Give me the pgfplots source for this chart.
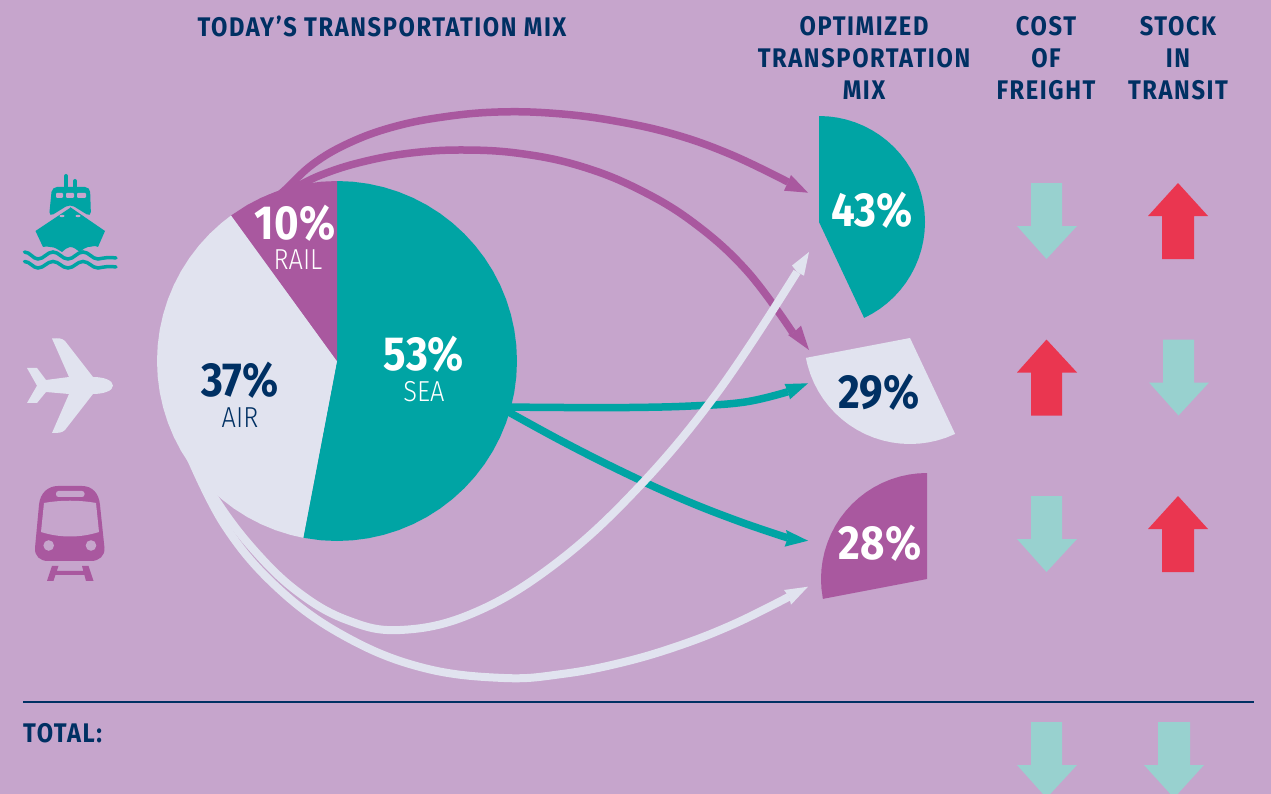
\documentclass[border=0pt]{standalone}
\usepackage{fontspec}
\usepackage{pgfplots}
\pgfplotsset{compat=1.18}
\usepgfplotslibrary{polar}
\setmainfont{Fira Sans}[FakeStretch=0.88]
\newfontfamily\headf{Fira Sans}[FakeStretch=0.88,LetterSpace=6]
\newfontfamily\thinf{Fira Sans Light}[FakeStretch=0.88]
\definecolor{bg}{HTML}{C6A5CC}
\definecolor{tealc}{HTML}{00A4A4}
\definecolor{purp}{HTML}{A9589F}
\definecolor{lite}{HTML}{E1E3EF}
\definecolor{navy}{HTML}{003063}
\definecolor{dnc}{HTML}{98D1CF}
\definecolor{upc}{HTML}{EA3650}
\newcommand\hd[1]{{\fontsize{27}{32}\headf\bfseries #1}}
\newcommand\pc[1]{{\fontsize{48}{50}\selectfont\bfseries #1}}
\newcommand\lb[1]{{\fontsize{29}{30}\thinf #1}}
\begin{document}
\begin{tikzpicture}
\useasboundingbox (0,0) rectangle (1271bp,794bp);
\fill[bg] (0,0) rectangle (1271bp,794bp);
\begin{axis}[at={(0,0)},anchor=south west,width=1271bp,height=794bp,scale only axis,
  xmin=0,xmax=1271,ymin=0,ymax=794,y dir=reverse,hide axis,clip=true,
  wedge/.style={fill=#1,draw=none,forget plot,data cs=polar},
  flow/.style={smooth,tension=0.66,color=#1,no markers,forget plot,line width=7.5bp},
  head/.style={fill=#1,draw=none,forget plot},
  dn/.style={fill=dnc,draw=none,forget plot},
  upa/.style={fill=upc,draw=none,forget plot}]
% today's mix
\addplot[wedge=tealc,shift={(axis direction cs:337,361)}] coordinates {(0,0)(-90,180)(-85,180)(-80,180)(-75,180)(-70,180)(-65,180)(-60,180)(-55,180)(-50,180)(-45,180)(-40,180)(-35,180)(-30,180)(-25,180)(-20,180)(-15,180)(-10,180)(-5,180)(0,180)(5,180)(10,180)(15,180)(20,180)(25,180)(30,180)(35,180)(40,180)(45,180)(50,180)(55,180)(60,180)(65,180)(70,180)(75,180)(80,180)(85,180)(90,180)(95,180)(100.8,180)} -- cycle;
\addplot[wedge=lite,shift={(axis direction cs:337,361)}] coordinates {(0,0)(100.8,180)(105,180)(110,180)(115,180)(120,180)(125,180)(130,180)(135,180)(140,180)(145,180)(150,180)(155,180)(160,180)(165,180)(170,180)(175,180)(180,180)(185,180)(190,180)(195,180)(200,180)(205,180)(210,180)(215,180)(220,180)(225,180)(230,180)(234,180)} -- cycle;
\addplot[wedge=purp,shift={(axis direction cs:337,361)}] coordinates {(0,0)(234,180)(240,180)(245,180)(250,180)(255,180)(260,180)(265,180)(270,180)} -- cycle;
% optimized mix
\addplot[wedge=tealc,shift={(axis direction cs:819,222)}] coordinates {(0,0)(-90,106)(-85,106)(-80,106)(-75,106)(-70,106)(-65,106)(-60,106)(-55,106)(-50,106)(-45,106)(-40,106)(-35,106)(-30,106)(-25,106)(-20,106)(-15,106)(-10,106)(-5,106)(0,106)(5,106)(10,106)(15,106)(20,106)(25,106)(30,106)(35,106)(40,106)(45,106)(50,106)(55,106)(60,106)(64.8,106)} -- cycle;
\addplot[wedge=lite,shift={(axis direction cs:910,338)}] coordinates {(0,0)(64.8,106)(70,106)(75,106)(80,106)(85,106)(90,106)(95,106)(100,106)(105,106)(110,106)(115,106)(120,106)(125,106)(130,106)(135,106)(140,106)(145,106)(150,106)(155,106)(160,106)(165,106)(169.2,106)} -- cycle;
\addplot[wedge=purp,shift={(axis direction cs:927,579)}] coordinates {(0,0)(169.2,106)(175,106)(180,106)(185,106)(190,106)(195,106)(200,106)(205,106)(210,106)(215,106)(220,106)(225,106)(230,106)(235,106)(240,106)(245,106)(250,106)(255,106)(260,106)(265,106)(270,106)} -- cycle;
% flows: rail
\addplot[flow=purp] coordinates {(265,207)(285,190)(313,164)(349,143)(393,127)(443,117)(498,112)(556,113.5)(615,121)(675,134.5)(732,155)(788,182)};
\addplot[head=purp] coordinates {(808,192.7)(791,175)(788,182)(784,190.7)} -- cycle;
\addplot[flow=purp] coordinates {(268,199)(288,191)(321,175)(362,162)(411,153)(464,150)(521,153.6)(580,166)(638,189)(694,223)(747,271)(793,333)};
\addplot[head=purp] coordinates {(809,350)(801,325.7)(793,333)(788,335)} -- cycle;
% flows: sea
\addplot[flow=tealc] coordinates {(505,407)(565,407.5)(629,407.5)(691,406)(745,402)(788,391.7)};
\addplot[head=tealc] coordinates {(808,383.3)(784.5,384)(788,391.7)(790,399.3)} -- cycle;
\addplot[flow=tealc] coordinates {(505,410)(563.5,442)(623,472)(682,499)(738,521)(788,538)};
\addplot[head=tealc] coordinates {(808,540.7)(786,530)(788,538)(784.5,546.7)} -- cycle;
% flows: air
\addplot[flow=lite,line width=8bp] coordinates {(185,445)(216,500)(254,550)(298,592)(347,620)(400,630)(471,614)(551,567)(634,492)(717,393)(797,272)};
\addplot[head=lite] coordinates {(809,252)(792,265.5)(797,272)(804,275.7)} -- cycle;
\addplot[flow=lite,line width=8bp] coordinates {(185,445)(224.5,525)(280,590)(348,638)(424,668)(504,678)(562,674)(620,663)(678,646)(734,624)(789,596.7)};
\addplot[head=lite] coordinates {(808,586.7)(784,590)(789,596.7)(791,604.7)} -- cycle;
% total rule
\addplot[navy,line width=2bp,forget plot] coordinates {(23,702)(1254,702)};
% arrows
\addplot[dn] coordinates {(1031,183)(1062,183)(1062,226)(1077,226)(1046.5,259)(1017,226)(1031,226)} -- cycle;
\addplot[upa] coordinates {(1178,183)(1208,216)(1194,216)(1194,259)(1162,259)(1162,216)(1148,216)} -- cycle;
\addplot[upa] coordinates {(1046.5,339.5)(1077,372.5)(1062,372.5)(1062,415.5)(1031,415.5)(1031,372.5)(1017,372.5)} -- cycle;
\addplot[dn] coordinates {(1163,339.5)(1194,339.5)(1194,382.5)(1209,382.5)(1178.5,415.5)(1149,382.5)(1163,382.5)} -- cycle;
\addplot[dn] coordinates {(1031,496)(1062,496)(1062,539)(1077,539)(1046.5,572)(1017,539)(1031,539)} -- cycle;
\addplot[upa] coordinates {(1178,496)(1208,529)(1194,529)(1194,572)(1162,572)(1162,529)(1148,529)} -- cycle;
\addplot[dn] coordinates {(1031,722)(1062,722)(1062,765)(1077,765)(1046.5,798)(1017,765)(1031,765)} -- cycle;
\addplot[dn] coordinates {(1158,722)(1190,722)(1190,765)(1204,765)(1174,798)(1144,765)(1158,765)} -- cycle;
% texts
\tikzset{every node/.append style={inner sep=0pt}}
\node[text=navy] at (axis cs:382,26) {\hd{TODAY’S TRANSPORTATION MIX}};
\node[text=navy] at (axis cs:864,26) {\hd{OPTIMIZED}};
\node[text=navy] at (axis cs:864,58) {\hd{TRANSPORTATION}};
\node[text=navy] at (axis cs:864,90) {\hd{MIX}};
\node[text=navy] at (axis cs:1046,26) {\hd{COST}};
\node[text=navy] at (axis cs:1046,58) {\hd{OF}};
\node[text=navy] at (axis cs:1046,90) {\hd{FREIGHT}};
\node[text=navy] at (axis cs:1178,26) {\hd{STOCK}};
\node[text=navy] at (axis cs:1178,58) {\hd{IN}};
\node[text=navy] at (axis cs:1178,90) {\hd{TRANSIT}};
\node[text=navy,anchor=west] at (axis cs:23,733) {\hd{TOTAL:}};
\node[text=white] at (axis cs:424,354) {\pc{53\%}};
\node[text=white] at (axis cs:424,392) {\lb{SEA}};
\node[text=navy] at (axis cs:240,380) {\pc{37\%}};
\node[text=navy] at (axis cs:240,418) {\lb{AIR}};
\node[text=white] at (axis cs:295,223) {\pc{10\%}};
\node[text=white] at (axis cs:298,260) {\lb{RAIL}};
\node[text=white] at (axis cs:872,210) {\pc{43\%}};
\node[text=navy] at (axis cs:879,392) {\pc{29\%}};
\node[text=white] at (axis cs:880,543) {\pc{28\%}};
\end{axis}
% icons, in image pixel coordinates
\begin{scope}[shift={(0,794bp)},x=1bp,y=-1bp]
% ship
\draw[tealc,line width=4bp,line cap=round] (66,176)--(66,190) (75,181)--(75,190);
\fill[tealc,rounded corners=5bp] (49,217)--(52,187)--(90,187)--(91,217)--(70,204)--cycle;
\fill[tealc] (35.5,231)--(70,208) to[out=-5,in=150] (70,207) --(105,231)--(98,247)
  to[out=150,in=0] (88,247) to[out=180,in=30] (80,252) to[out=150,in=0] (70,247) to[out=180,in=30] (62,252) to[out=150,in=0] (50,247) to[out=180,in=30] (43,247)--cycle;
\fill[bg,rounded corners=1bp] (56,193) rectangle (63,198) (66,193) rectangle (74,198) (77,193) rectangle (86,198);
\fill[bg] (62,216) ellipse (2.5 and 1.2) (78,216) ellipse (2.5 and 1.2);
\draw[tealc,line width=3.5bp,line cap=round] (24.5,252) .. controls (30,252) and (33,259) .. (38,259) .. controls (44,259) and (47,252) .. (53,252) .. controls (59,252) and (62,259) .. (68,259) .. controls (74,259) and (77,252) .. (83,252) .. controls (89,252) and (92,259) .. (98,259) .. controls (104,258) and (108,257) .. (116,258);
\draw[tealc,line width=3.5bp,line cap=round] (24.5,261.5) .. controls (30,261.5) and (33,268) .. (38,268) .. controls (44,268) and (47,261.5) .. (53,261.5) .. controls (59,261.5) and (62,268) .. (68,268) .. controls (74,268) and (77,261.5) .. (83,261.5) .. controls (89,261.5) and (92,268) .. (98,268) .. controls (104,267) and (108,266) .. (116,267);
% plane
\fill[lite] (113,385.7) .. controls (113,380) and (103,377) .. (93,377) -- (65,341) .. controls (62,338) and (58,338) .. (52,338.5) -- (69,377) -- (46,380) -- (37,368) -- (27,368) -- (37,385.7) -- (27,403) -- (37,403) -- (46,392) -- (69,394) -- (52,433) .. controls (58,433) and (62,433) .. (65,430) -- (93,394) .. controls (103,394) and (113,391) .. (113,385.7) -- cycle;
% train
\fill[purp] (35,548) -- (39,505) .. controls (40,493) and (48,486) .. (58,486) -- (82,486) .. controls (92,486) and (99,493) .. (100,505) -- (104.5,548) .. controls (105,556) and (99,561) .. (91,561) -- (48,561) .. controls (40,561) and (34.5,556) .. (35,548) -- cycle;
\fill[bg] (44,503) .. controls (60,500) and (80,500) .. (96,503) -- (99,532) .. controls (80,538) and (60,538) .. (41,532) -- cycle;
\fill[bg,rounded corners=2.5bp] (56,491) rectangle (84.5,497);
\fill[bg] (48.7,545.5) circle (5.3) (91,545.5) circle (5.3);
\fill[purp] (52,566)--(58.5,566)--(53.5,581)--(47,581)--cycle (82,566)--(88.5,566)--(93.5,581)--(86,581)--cycle (54,571)--(86,571)--(86,575)--(54,575)--cycle;
\end{scope}
\end{tikzpicture}
\end{document}
